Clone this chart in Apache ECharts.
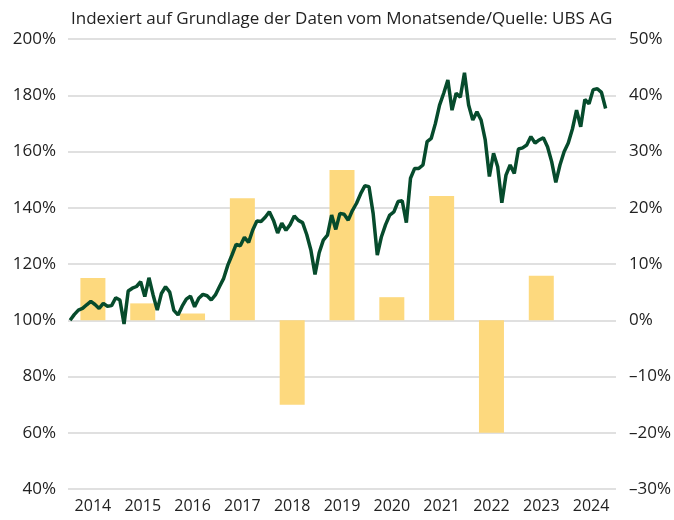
<!DOCTYPE html>
<html>
<head>
<meta charset="utf-8">
<script src="https://cdn.jsdelivr.net/npm/echarts@6/dist/echarts.min.js"></script>
<style>
  html, body { margin: 0; padding: 0; background: #fff; }
  #chart { width: 674px; height: 520px; }
</style>
</head>
<body>
<div id="chart"></div>
<script>
// Jahre (Kategorien) und jährliche Rendite in % (rechte Achse)
const years = ['2014', '2015', '2016', '2017', '2018', '2019', '2020', '2021', '2022', '2023', '2024'];
const yearReturns = [7.5, 3.0, 1.2, 21.7, -15.0, 26.7, 4.1, 22.1, -20.0, 7.9, null];

// Indexierter Verlauf, Monatsendwerte ab Jan 2014 (linke Achse, in %)
const indexValues = [
  100.0, 102.0, 103.6, 104.2, 105.5, 106.7, 105.6, 104.2, 106.0, 105.0, 105.2, 108.0,
  107.2, 98.7, 110.4, 111.4, 112.0, 113.7, 108.4, 115.1, 109.0, 103.6, 109.5, 111.9,
  110.0, 103.5, 101.9, 105.0, 107.5, 108.6, 104.8, 107.8, 109.2, 108.7, 107.2, 109.0,
  112.0, 114.9, 119.6, 123.2, 127.0, 126.5, 129.5, 127.7, 132.1, 135.3, 135.1, 136.6,
  138.6, 135.5, 131.0, 134.5, 132.0, 134.0, 137.1, 135.5, 134.7, 130.5, 125.0, 116.3,
  124.0, 128.5, 130.3, 137.4, 132.3, 138.0, 137.7, 135.6, 139.0, 141.6, 145.0, 147.8,
  147.5, 138.0, 123.2, 129.7, 134.0, 137.4, 138.5, 142.2, 142.5, 134.7, 150.5, 154.0,
  154.0, 155.2, 163.5, 164.7, 170.0, 176.5, 180.7, 185.4, 174.7, 180.7, 179.3, 188.0,
  176.5, 171.2, 174.1, 171.2, 164.1, 151.1, 159.4, 154.6, 141.8, 151.6, 155.2, 152.2,
  160.9, 161.3, 162.3, 165.3, 163.0, 164.1, 164.9, 161.7, 156.4, 149.0, 155.2, 159.9,
  163.0, 168.0, 174.7, 168.8, 178.5, 177.0, 182.0, 182.3, 181.0, 175.3
];

const leftTicks = { min: 40, max: 200, step: 20 };
const rightTicks = { min: -30, max: 50, step: 10 };

const chart = echarts.init(document.getElementById('chart'));
const font = '"Open Sans", "Noto Sans", sans-serif';

chart.setOption({
  animation: false,
  title: {
    text: 'Indexiert auf Grundlage der Daten vom Monatsende/Quelle: UBS AG',
    left: 66,
    top: 6,
    textStyle: { fontFamily: font, fontSize: 17, fontWeight: 'normal', color: '#222' }
  },
  grid: { left: 68, right: 57, top: 39, bottom: 31 },
  xAxis: [
    {
      type: 'category',
      data: years,
      boundaryGap: true,
      axisLine: { show: false },
      axisTick: { show: false },
      axisLabel: { interval: 0, fontFamily: font, fontSize: 16, color: '#222', margin: 9 }
    },
    {
      type: 'value',
      min: 0,
      max: years.length * 12,
      show: false
    }
  ],
  yAxis: [
    {
      type: 'value',
      min: leftTicks.min,
      max: leftTicks.max,
      interval: leftTicks.step,
      axisLine: { show: false },
      axisTick: { show: false },
      splitLine: { lineStyle: { color: '#d6d6d6', width: 1.5 } },
      axisLabel: { fontFamily: font, fontSize: 17, color: '#222', margin: 12, formatter: v => v + '%' }
    },
    {
      type: 'value',
      min: rightTicks.min,
      max: rightTicks.max,
      interval: rightTicks.step,
      position: 'right',
      axisLine: { show: false },
      axisTick: { show: false },
      splitLine: { show: false },
      axisLabel: {
        fontFamily: font, fontSize: 17, color: '#222', margin: 13,
        formatter: v => (v < 0 ? '\u2013' + Math.abs(v) : v) + '%'
      }
    }
  ],
  series: [
    {
      type: 'bar',
      xAxisIndex: 0,
      yAxisIndex: 1,
      data: yearReturns,
      barWidth: 25,
      itemStyle: { color: '#fdd97e' },
      z: 1
    },
    {
      type: 'line',
      xAxisIndex: 1,
      yAxisIndex: 0,
      data: indexValues.map((v, i) => [i + 0.5, v]),
      showSymbol: false,
      lineStyle: { color: '#064b2c', width: 3.5 },
      z: 3
    }
  ]
});
</script>
</body>
</html>
